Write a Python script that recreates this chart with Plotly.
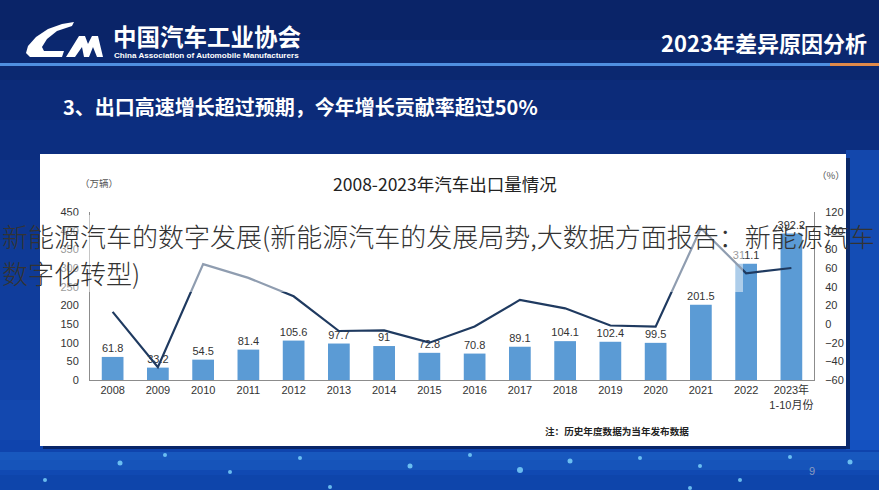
import plotly.graph_objects as go

# ---------------- data ----------------
years = ["2008", "2009", "2010", "2011", "2012", "2013", "2014", "2015",
         "2016", "2017", "2018", "2019", "2020", "2021", "2022", "2023年<br>1-10月份"]
exports = [61.8, 33.2, 54.5, 81.4, 105.6, 97.7, 91, 72.8,
           70.8, 89.1, 104.1, 102.4, 99.5, 201.5, 311.1, 392.2]
growth = [13, -46.3, 64.2, 49.4, 29.7, -7.5, -6.9, -20,
          -2.7, 25.8, 16.8, -1.6, -2.9, 102.5, 54.4, 60]
left_ticks = [0, 50, 100, 150, 200, 250, 300, 350, 400, 450]
right_ticks = [-60, -40, -20, 0, 20, 40, 60, 80, 100, 120]

W, H = 879, 490
L, R, T, B = 90, 65, 212, 110
PW, PH = W - L - R, H - T - B


def px(x):
    return (x - L) / PW


def py(y):
    return (H - B - y) / PH


def rect(x0, y0, x1, y1, color, opacity=1.0, layer="below", line=None):
    return dict(type="rect", xref="paper", yref="paper",
                x0=px(x0), x1=px(x1), y0=py(y1), y1=py(y0),
                fillcolor=color, opacity=opacity, layer=layer,
                line=line or dict(width=0))


def path(points, color, layer="above"):
    s = "M " + " L ".join(f"{px(a):.5f},{py(b):.5f}" for a, b in points) + " Z"
    return dict(type="path", xref="paper", yref="paper", path=s,
                fillcolor=color, line=dict(width=0), layer=layer)


CJK = "Noto Sans CJK SC"
LAT = "Liberation Sans, Noto Sans CJK SC"

fig = go.Figure()
fig.add_trace(go.Bar(
    x=years, y=exports, text=[f"{v:g}" for v in exports],
    textposition="outside", cliponaxis=False, constraintext="none",
    textfont=dict(family=LAT, size=11, color="#333333"),
    marker=dict(color="#5b9bd5", line=dict(width=0)),
    yaxis="y", hoverinfo="skip", showlegend=False))
fig.add_trace(go.Scatter(
    x=years, y=growth, mode="lines",
    line=dict(color="#1f3a60", width=2.2),
    yaxis="y2", hoverinfo="skip", showlegend=False, cliponaxis=False))

shapes = []
# background gradient (slide)
bands = [(0, "#0a2468"), (40, "#0b2870"), (80, "#0c2b79"), (120, "#0c2e80"),
         (160, "#0d3288"), (200, "#0e368f"), (240, "#0f3a96"), (280, "#103d9c"),
         (320, "#1141a3"), (360, "#1244a9"), (400, "#1348af"), (440, "#0f44ad"),
         (460, "#0c3ea6"), (475, "#0a389c")]
for i, (y0, c) in enumerate(bands):
    y1 = bands[i + 1][0] if i + 1 < len(bands) else H
    shapes.append(rect(0, y0, W, y1, c))
# brighter right side
shapes.append(rect(846, 150, W, 450, "#1a5cd0", 0.55))
# bottom network glow
shapes.append(rect(0, 452, W, 470, "#2a7de0", 0.35))
shapes.append(rect(0, 470, W, 490, "#1d6ad6", 0.25))
for (cx, cy, r_) in [(45, 480, 2), (120, 463, 2.5), (165, 455, 2), (230, 472, 2),
                     (300, 458, 2), (330, 487, 2), (410, 466, 2.5), (470, 455, 2),
                     (520, 470, 3), (570, 461, 2.5), (640, 458, 2), (700, 466, 2),
                     (740, 480, 2), (790, 457, 2), (850, 462, 2.5), (690, 488, 2)]:
    shapes.append(dict(type="circle", xref="paper", yref="paper",
                       x0=px(cx - r_), x1=px(cx + r_), y0=py(cy + r_), y1=py(cy - r_),
                       fillcolor="#7fd8ff", opacity=0.8, line=dict(width=0), layer="below"))
# header line
shapes.append(rect(0, 63, W, 66, "#4f8fe0"))
shapes.append(rect(830, 63, W, 66, "#e08a4a"))
# chart panel shadow + panel
shapes.append(rect(43, 158, 850, 449, "#061a4a", 0.7))
shapes.append(rect(40, 154, 846, 446, "#ffffff"))
# haze behind watermark
shapes.append(rect(40, 215, 743, 292, "#ffffff", 0.5, layer="above"))
# logo
shapes.append(path([(74, 22), (62, 24), (48, 29), (36, 37), (28, 46), (26, 53), (30, 57),
                    (62, 57), (64, 51), (44, 51), (42, 47), (47, 39), (57, 31), (72, 26)],
                   "#ffffff"))
shapes.append(path([(66, 57), (79, 36), (85, 36), (88, 44), (92, 36), (98, 36), (103, 57),
                    (97, 57), (93, 47), (89, 57), (84, 57), (82, 47), (75, 57)], "#ffffff"))

ann = []


def text(x, y, s, size, color, family=CJK, anchor="left", bold=False, weight=None):
    f = dict(family=family, size=size, color=color)
    if weight:
        f["weight"] = weight
    ann.append(dict(xref="paper", yref="paper", x=px(x), y=py(y),
                    xanchor=anchor, yanchor="middle", showarrow=False,
                    text=f"<b>{s}</b>" if bold else s, font=f))


text(111, 36, "中国汽车工业协会", 23.5, "#ffffff", bold=True)
text(112, 55, "China Association of Automobile Manufacturers", 8.1, "#ffffff",
     family="Liberation Sans Narrow, Liberation Sans", bold=True)
text(869, 42, "2023年差异原因分析", 22, "#ffffff", anchor="right", bold=True)
text(61, 106, "3、出口高速增长超过预期，今年增长贡献率超过50%", 20, "#ffffff", bold=True)
text(445, 183, "2008-2023年汽车出口量情况", 17.5, "#222222", anchor="center")
text(99, 183, "（万辆）", 9.5, "#555555", anchor="center")
text(831, 175, "（%）", 9.5, "#555555", anchor="center")
text(617, 431, "注：历史年度数据为当年发布数据", 9.6, "#222222", anchor="center", bold=True)
text(812, 471, "9", 11, "#8a9bc0", family=LAT, anchor="center")
# watermark overlay
text(0, 235, "新能源汽车的数字发展(新能源汽车的发展局势,大数据方面报告：新能源汽车", 26,
     "#333333", weight=300)
text(0, 272, "数字化转型)", 26, "#333333", weight=300)

fig.update_layout(
    width=W, height=H, margin=dict(l=L, r=R, t=T, b=B),
    paper_bgcolor="#0b2a78", plot_bgcolor="rgba(0,0,0,0)",
    bargap=0.52, shapes=shapes, annotations=ann, showlegend=False,
    xaxis=dict(type="category", range=[-0.5, 15.5], showline=True, linecolor="#8c8c8c",
               linewidth=1, ticks="", showgrid=False, zeroline=False,
               tickfont=dict(family=LAT, size=11, color="#333333")),
    yaxis=dict(range=[0, 450], tickvals=left_ticks, showline=True, linecolor="#8c8c8c",
               linewidth=1, showgrid=False, zeroline=False, ticks="", ticklabelstandoff=8,
               tickfont=dict(family=LAT, size=11, color="#333333")),
    yaxis2=dict(range=[-60, 120], tickvals=right_ticks, overlaying="y", side="right",
                showline=True, linecolor="#8c8c8c", linewidth=1, showgrid=False,
                zeroline=False, ticks="", ticklabelstandoff=8,
                tickfont=dict(family=LAT, size=11, color="#333333")),
)

fig.write_html("out.html", config={"displayModeBar": False},
               post_script="document.body.style.margin='0';document.body.style.overflow='hidden';")
